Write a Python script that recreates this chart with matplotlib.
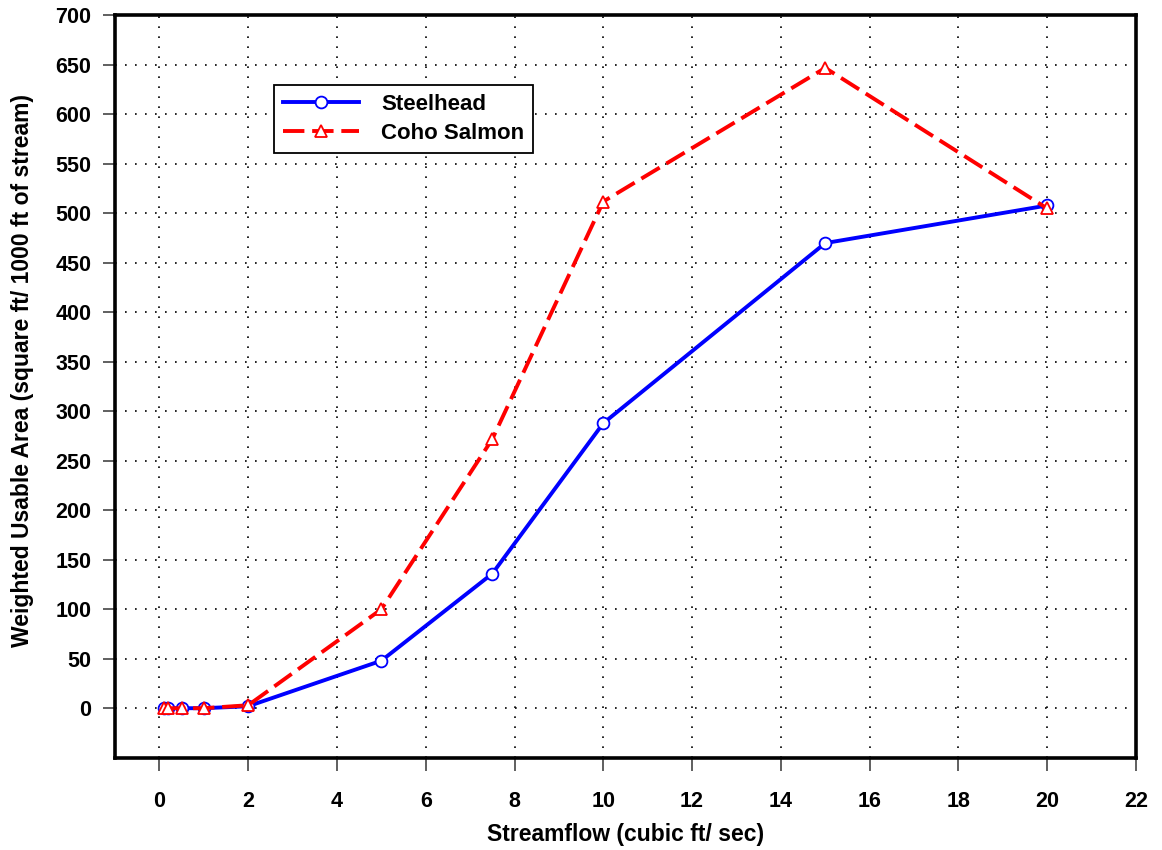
# -*- coding: utf-8 -*-
import matplotlib.pyplot as plt
import numpy as np

plt.rcParams['font.family'] = ['Liberation Sans', 'DejaVu Sans']
plt.rcParams['font.weight'] = 'bold'
plt.rcParams['font.size'] = 16

# Data
flow = [0.1, 0.2, 0.5, 1, 2, 5, 7.5, 10, 15, 20]
steelhead = [0, 0, 0, 0, 2, 48, 136, 288, 470, 508]
coho = [0, 0, 0, 0, 3, 100, 272, 512, 647, 505]

xticks = np.arange(0, 23, 2)
yticks = np.arange(0, 701, 50)

fig = plt.figure(figsize=(11.62, 8.5), dpi=100)
ax = fig.add_axes([0.099, 0.1086, 0.8786, 0.8732])

ax.plot(flow, steelhead, color='blue', lw=2.8, marker='o', markersize=8.5,
        markerfacecolor='white', markeredgecolor='blue', markeredgewidth=1.3,
        label='Steelhead', zorder=3)
ax.plot(flow, coho, color='red', lw=2.8, dashes=(5.5, 2.0), marker='^', markersize=8,
        markerfacecolor='white', markeredgecolor='red', markeredgewidth=1.3,
        label='Coho Salmon', zorder=4)

ax.set_xlim(-1, 22)
ax.set_ylim(-50, 700)
ax.set_xticks(xticks)
ax.set_yticks(yticks)

ax.grid(True, color='black', linestyle=(0, (1, 5)), linewidth=1.2)
ax.set_axisbelow(True)

for s in ax.spines.values():
    s.set_linewidth(2.6)

ax.tick_params(axis='x', direction='out', length=9, width=1.2, color='#444444', pad=15, labelsize=15.5)
ax.tick_params(axis='y', direction='out', length=9, width=1.2, color='#444444', pad=8, labelsize=15.5)
for lab in ax.get_xticklabels() + ax.get_yticklabels():
    lab.set_fontweight('bold')

ax.set_xlabel('Streamflow (cubic ft/ sec)', fontsize=16.5, fontweight='bold', labelpad=8)
ax.set_ylabel('Weighted Usable Area (square ft/ 1000 ft of stream)', fontsize=16.5,
              fontweight='bold')
ax.yaxis.set_label_coords(-0.079, 0.522)

leg = ax.legend(loc='upper left', bbox_to_anchor=(0.156, 0.906), borderaxespad=0,
                fancybox=False, framealpha=1, edgecolor='black', handlelength=3.4,
                handletextpad=1.0, borderpad=0.4, labelspacing=0.35,
                prop={'weight': 'bold', 'size': 16})
leg.get_frame().set_linewidth(1.3)

plt.savefig('out.png', dpi=100)
